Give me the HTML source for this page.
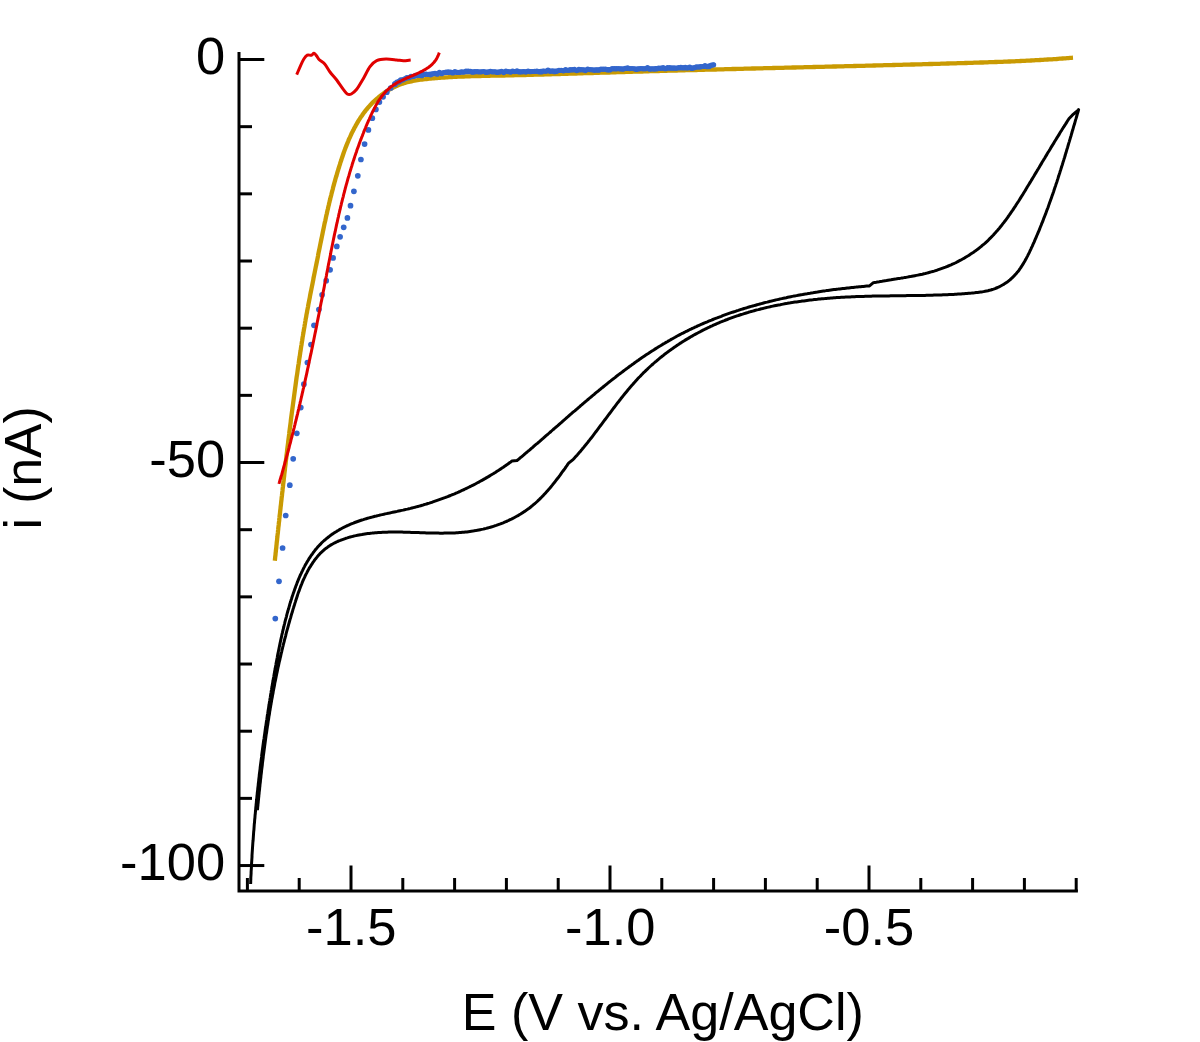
<!DOCTYPE html><html><head><meta charset="utf-8"><style>html,body{margin:0;padding:0;background:#fff;}svg{display:block;}text{font-family:"Liberation Sans",sans-serif;fill:#000;}</style></head><body>
<svg width="1200" height="1042" viewBox="0 0 1200 1042">
<g stroke="#000" stroke-width="3.0" fill="none" stroke-linecap="butt">
<path d="M239.0 52 L239.0 891.0 L1077.9 891.0"/>
<path d="M239.0 59.50 h25.3"/>
<path d="M239.0 126.67 h13.0"/>
<path d="M239.0 193.84 h13.0"/>
<path d="M239.0 261.01 h13.0"/>
<path d="M239.0 328.18 h13.0"/>
<path d="M239.0 395.35 h13.0"/>
<path d="M239.0 462.52 h25.3"/>
<path d="M239.0 529.69 h13.0"/>
<path d="M239.0 596.86 h13.0"/>
<path d="M239.0 664.03 h13.0"/>
<path d="M239.0 731.20 h13.0"/>
<path d="M239.0 798.37 h13.0"/>
<path d="M239.0 865.54 h25.3"/>
<path d="M247.40 891.0 v-13.0"/>
<path d="M299.20 891.0 v-13.0"/>
<path d="M351.00 891.0 v-25.5"/>
<path d="M402.80 891.0 v-13.0"/>
<path d="M454.60 891.0 v-13.0"/>
<path d="M506.40 891.0 v-13.0"/>
<path d="M558.20 891.0 v-13.0"/>
<path d="M610.00 891.0 v-25.5"/>
<path d="M661.80 891.0 v-13.0"/>
<path d="M713.60 891.0 v-13.0"/>
<path d="M765.40 891.0 v-13.0"/>
<path d="M817.20 891.0 v-13.0"/>
<path d="M869.00 891.0 v-25.5"/>
<path d="M920.80 891.0 v-13.0"/>
<path d="M972.60 891.0 v-13.0"/>
<path d="M1024.40 891.0 v-13.0"/>
<path d="M1076.20 891.0 v-13.0"/>
</g>
<text x="225.2" y="55.2" font-size="52.5" text-anchor="end" dominant-baseline="central">0</text>
<text x="225.2" y="458.2" font-size="52.5" text-anchor="end" dominant-baseline="central">-50</text>
<text x="225.2" y="861.2" font-size="52.5" text-anchor="end" dominant-baseline="central">-100</text>
<text x="351.2" y="945.2" font-size="52.5" text-anchor="middle">-1.5</text>
<text x="610.2" y="945.2" font-size="52.5" text-anchor="middle">-1.0</text>
<text x="869.0" y="945.2" font-size="52.5" text-anchor="middle">-0.5</text>
<text transform="translate(662.8 1030) scale(0.9915 1)" x="0" y="0" font-size="52.5" text-anchor="middle">E (V vs. Ag/AgCl)</text>
<text transform="translate(40.5 467.9) rotate(-90) scale(0.981 1)" x="0" y="0" font-size="52.5" text-anchor="middle">i (nA)</text>
<path d="M257.4 810.1 L257.6 808.6 L257.7 807.1 L257.9 805.6 L258.0 804.1 L258.2 802.6 L258.3 801.1 L258.5 799.6 L258.6 798.1 L258.8 796.6 L258.9 795.0 L259.1 793.5 L259.2 792.0 L259.4 790.5 L259.6 789.0 L259.7 787.5 L259.9 786.0 L260.0 784.5 L260.2 783.0 L260.4 781.5 L260.5 780.0 L260.7 778.5 L260.9 777.0 L261.0 775.5 L261.2 774.0 L261.4 772.6 L261.5 771.1 L261.7 769.6 L261.9 768.1 L262.1 766.6 L262.3 765.1 L262.4 763.6 L262.6 762.1 L262.8 760.6 L263.0 759.1 L263.2 757.6 L263.3 756.1 L263.5 754.7 L263.7 753.2 L263.9 751.7 L264.1 750.2 L264.3 748.7 L264.5 747.2 L264.7 745.7 L264.9 744.3 L265.1 742.8 L265.3 741.3 L265.5 739.8 L265.7 738.3 L265.9 736.8 L266.1 735.4 L266.3 733.9 L266.6 732.4 L266.8 730.9 L267.0 729.4 L267.2 728.0 L267.4 726.5 L267.7 725.0 L267.9 723.5 L268.1 722.1 L268.3 720.6 L268.6 719.1 L268.8 717.6 L269.0 716.1 L269.3 714.7 L269.5 713.2 L269.7 711.7 L270.0 710.3 L270.2 708.8 L270.5 707.3 L270.7 705.8 L271.0 704.4 L271.2 702.9 L271.5 701.4 L271.7 699.9 L272.0 698.5 L272.3 697.0 L272.5 695.5 L272.8 694.1 L273.1 692.6 L273.3 691.1 L273.6 689.7 L273.9 688.2 L274.2 686.7 L274.5 685.3 L274.7 683.8 L275.0 682.3 L275.3 680.9 L275.6 679.4 L275.9 677.9 L276.2 676.5 L276.5 675.0 L276.8 673.5 L277.1 672.1 L277.4 670.6 L277.7 669.1 L278.0 667.7 L278.4 666.2 L278.7 664.8 L279.0 663.3 L279.3 661.8 L279.7 660.4 L280.0 658.9 L280.3 657.5 L280.7 656.0 L281.0 654.5 L281.3 653.1 L281.7 651.6 L282.0 650.2 L282.4 648.7 L282.7 647.2 L283.1 645.8 L283.4 644.3 L283.8 642.9 L284.2 641.4 L284.5 639.9 L284.9 638.5 L285.3 637.0 L285.7 635.6 L286.0 634.1 L286.4 632.7 L286.8 631.2 L287.2 629.7 L287.6 628.3 L288.0 626.8 L288.4 625.4 L288.8 623.9 L289.2 622.5 L289.6 621.0 L290.0 619.6 L290.5 618.1 L290.9 616.6 L291.3 615.2 L291.7 613.7 L292.2 612.3 L292.6 610.8 L293.0 609.4 L293.5 607.9 L293.9 606.5 L294.4 605.0 L294.8 603.6 L295.3 602.1 L295.7 600.7 L296.2 599.2 L296.7 597.8 L297.2 596.3 L297.6 594.9 L298.1 593.4 L298.6 592.0 L299.2 590.6 L299.7 589.1 L300.2 587.7 L300.7 586.3 L301.3 584.9 L301.9 583.5 L302.4 582.1 L303.0 580.7 L303.6 579.3 L304.3 577.9 L304.9 576.6 L305.5 575.2 L306.2 573.9 L306.9 572.6 L307.6 571.2 L308.3 569.9 L309.0 568.6 L309.8 567.3 L310.6 566.1 L311.4 564.8 L312.2 563.6 L313.0 562.3 L313.9 561.1 L314.7 559.9 L315.7 558.7 L316.6 557.6 L317.5 556.4 L318.5 555.3 L319.5 554.2 L320.5 553.1 L321.6 552.1 L322.7 551.1 L323.8 550.1 L324.9 549.1 L326.1 548.2 L327.3 547.4 L328.5 546.5 L329.7 545.7 L331.0 544.9 L332.2 544.2 L333.5 543.5 L334.8 542.8 L336.2 542.1 L337.5 541.5 L338.9 540.9 L340.3 540.4 L341.7 539.8 L343.1 539.3 L344.5 538.8 L345.9 538.3 L347.3 537.9 L348.8 537.4 L350.2 537.0 L351.7 536.6 L353.1 536.3 L354.6 535.9 L356.0 535.6 L357.5 535.3 L359.0 535.0 L360.4 534.7 L361.9 534.5 L363.4 534.2 L364.8 534.0 L366.3 533.8 L367.8 533.6 L369.3 533.4 L370.7 533.2 L372.2 533.1 L373.7 532.9 L375.2 532.8 L376.7 532.7 L378.2 532.6 L379.7 532.5 L381.1 532.4 L382.6 532.3 L384.1 532.3 L385.6 532.2 L387.1 532.2 L388.6 532.1 L390.1 532.1 L391.6 532.1 L393.1 532.1 L394.6 532.1 L396.1 532.1 L397.6 532.1 L399.1 532.1 L400.6 532.1 L402.1 532.1 L403.6 532.2 L405.1 532.2 L406.7 532.2 L408.2 532.3 L409.7 532.3 L411.2 532.4 L412.7 532.4 L414.2 532.5 L415.7 532.5 L417.2 532.6 L418.7 532.6 L420.2 532.7 L421.8 532.7 L423.3 532.8 L424.8 532.8 L426.3 532.9 L427.8 532.9 L429.3 533.0 L430.8 533.0 L432.3 533.0 L433.8 533.1 L435.3 533.1 L436.9 533.1 L438.4 533.1 L439.9 533.2 L441.4 533.2 L442.9 533.2 L444.4 533.1 L445.9 533.1 L447.4 533.1 L448.9 533.1 L450.4 533.0 L451.9 533.0 L453.4 532.9 L454.9 532.9 L456.4 532.8 L457.9 532.7 L459.4 532.6 L460.9 532.5 L462.4 532.3 L463.9 532.2 L465.4 532.0 L466.9 531.9 L468.4 531.7 L469.9 531.5 L471.4 531.3 L472.8 531.1 L474.3 530.8 L475.8 530.6 L477.3 530.3 L478.8 530.0 L480.2 529.7 L481.7 529.4 L483.2 529.1 L484.6 528.7 L486.1 528.4 L487.6 528.0 L489.0 527.6 L490.5 527.2 L491.9 526.8 L493.3 526.3 L494.8 525.8 L496.2 525.4 L497.6 524.9 L499.0 524.4 L500.4 523.9 L501.8 523.3 L503.2 522.8 L504.6 522.2 L506.0 521.6 L507.4 521.0 L508.7 520.4 L510.1 519.7 L511.4 519.1 L512.8 518.4 L514.1 517.7 L515.4 517.0 L516.7 516.3 L518.0 515.6 L519.3 514.8 L520.6 514.0 L521.8 513.2 L523.1 512.4 L524.3 511.6 L525.6 510.8 L526.8 509.9 L528.0 509.0 L529.2 508.2 L530.4 507.3 L531.5 506.3 L532.7 505.4 L533.8 504.4 L535.0 503.5 L536.1 502.5 L537.2 501.5 L538.3 500.4 L539.4 499.4 L540.4 498.4 L541.5 497.3 L542.5 496.2 L543.6 495.1 L544.6 494.0 L545.6 492.9 L546.6 491.8 L547.6 490.7 L548.6 489.6 L549.6 488.4 L550.6 487.3 L551.5 486.1 L552.5 484.9 L553.4 483.7 L554.4 482.6 L555.3 481.4 L556.2 480.2 L557.1 479.0 L558.1 477.8 L559.0 476.6 L559.9 475.4 L560.8 474.1 L561.6 472.9 L562.5 471.7 L563.4 470.5 L564.3 469.3 L565.2 468.1 L566.0 466.8 L566.9 465.6 L567.7 464.4 L568.6 463.2 L573.3 459.3 L574.3 458.2 L575.3 457.1 L576.3 456.0 L577.3 454.9 L578.3 453.7 L579.3 452.6 L580.3 451.5 L581.2 450.3 L582.2 449.2 L583.1 448.0 L584.1 446.9 L585.0 445.7 L586.0 444.6 L586.9 443.4 L587.9 442.2 L588.8 441.0 L589.7 439.9 L590.6 438.7 L591.6 437.5 L592.5 436.3 L593.4 435.1 L594.3 433.9 L595.2 432.7 L596.1 431.5 L597.0 430.3 L597.9 429.1 L598.8 427.9 L599.7 426.7 L600.6 425.5 L601.5 424.3 L602.4 423.1 L603.3 421.9 L604.2 420.7 L605.1 419.5 L606.0 418.3 L606.9 417.1 L607.8 415.9 L608.7 414.7 L609.6 413.5 L610.5 412.3 L611.4 411.1 L612.3 409.9 L613.2 408.7 L614.1 407.5 L615.0 406.3 L615.9 405.1 L616.8 403.9 L617.7 402.7 L618.7 401.5 L619.6 400.3 L620.5 399.2 L621.4 398.0 L622.4 396.8 L623.3 395.6 L624.2 394.5 L625.2 393.3 L626.1 392.2 L627.1 391.0 L628.0 389.8 L629.0 388.7 L630.0 387.6 L630.9 386.4 L631.9 385.3 L632.9 384.2 L633.9 383.0 L634.9 381.9 L635.9 380.8 L636.9 379.7 L637.9 378.6 L638.9 377.5 L640.0 376.5 L641.0 375.4 L642.1 374.3 L643.1 373.2 L644.2 372.2 L645.3 371.1 L646.3 370.1 L647.4 369.1 L648.5 368.0 L649.6 367.0 L650.7 366.0 L651.8 365.0 L653.0 364.0 L654.1 363.0 L655.2 362.0 L656.4 361.1 L657.5 360.1 L658.7 359.1 L659.8 358.2 L661.0 357.2 L662.2 356.3 L663.4 355.4 L664.5 354.4 L665.7 353.5 L666.9 352.6 L668.1 351.7 L669.4 350.8 L670.6 349.9 L671.8 349.1 L673.0 348.2 L674.3 347.3 L675.5 346.5 L676.7 345.6 L678.0 344.8 L679.2 344.0 L680.5 343.1 L681.8 342.3 L683.0 341.5 L684.3 340.7 L685.6 339.9 L686.9 339.1 L688.2 338.4 L689.5 337.6 L690.8 336.8 L692.1 336.1 L693.4 335.3 L694.7 334.6 L696.0 333.9 L697.3 333.2 L698.6 332.5 L700.0 331.8 L701.3 331.1 L702.6 330.4 L704.0 329.7 L705.3 329.0 L706.7 328.4 L708.0 327.7 L709.4 327.1 L710.7 326.4 L712.1 325.8 L713.4 325.2 L714.8 324.6 L716.2 324.0 L717.5 323.4 L718.9 322.8 L720.3 322.2 L721.7 321.7 L723.0 321.1 L724.4 320.6 L725.8 320.0 L727.2 319.5 L728.6 318.9 L730.0 318.4 L731.4 317.9 L732.8 317.4 L734.2 316.9 L735.6 316.4 L737.0 315.9 L738.4 315.5 L739.8 315.0 L741.2 314.5 L742.7 314.1 L744.1 313.6 L745.5 313.2 L746.9 312.8 L748.4 312.3 L749.8 311.9 L751.2 311.5 L752.7 311.1 L754.1 310.7 L755.5 310.3 L757.0 309.9 L758.4 309.6 L759.9 309.2 L761.3 308.8 L762.7 308.5 L764.2 308.1 L765.6 307.8 L767.1 307.4 L768.6 307.1 L770.0 306.8 L771.5 306.4 L772.9 306.1 L774.4 305.8 L775.9 305.5 L777.3 305.2 L778.8 304.9 L780.3 304.7 L781.7 304.4 L783.2 304.1 L784.7 303.8 L786.1 303.6 L787.6 303.3 L789.1 303.1 L790.6 302.8 L792.0 302.6 L793.5 302.3 L795.0 302.1 L796.5 301.9 L798.0 301.7 L799.4 301.5 L800.9 301.3 L802.4 301.0 L803.9 300.9 L805.4 300.7 L806.9 300.5 L808.4 300.3 L809.9 300.1 L811.3 299.9 L812.8 299.8 L814.3 299.6 L815.8 299.4 L817.3 299.3 L818.8 299.1 L820.3 299.0 L821.8 298.8 L823.3 298.7 L824.8 298.6 L826.3 298.4 L827.8 298.3 L829.3 298.2 L830.8 298.1 L832.3 298.0 L833.8 297.8 L835.3 297.7 L836.7 297.6 L838.2 297.5 L839.7 297.4 L841.2 297.3 L842.7 297.3 L844.2 297.2 L845.7 297.1 L847.2 297.0 L848.7 296.9 L850.2 296.9 L851.7 296.8 L853.2 296.7 L854.7 296.7 L856.2 296.6 L857.7 296.6 L859.2 296.5 L860.7 296.5 L862.2 296.4 L863.7 296.4 L865.2 296.3 L866.7 296.3 L868.2 296.2 L869.7 296.2 L871.2 296.2 L872.6 296.1 L874.1 296.1 L875.6 296.1 L877.1 296.0 L878.6 296.0 L880.1 296.0 L881.6 296.0 L883.1 295.9 L884.6 295.9 L886.1 295.9 L887.6 295.9 L889.1 295.9 L890.6 295.8 L892.1 295.8 L893.6 295.8 L895.1 295.8 L896.6 295.8 L898.0 295.8 L899.5 295.7 L901.0 295.7 L902.5 295.7 L904.0 295.7 L905.5 295.7 L907.0 295.6 L908.5 295.6 L910.0 295.6 L911.5 295.6 L913.0 295.6 L914.5 295.6 L916.0 295.5 L917.5 295.5 L919.0 295.5 L920.5 295.5 L922.0 295.4 L923.5 295.4 L925.0 295.4 L926.5 295.3 L928.0 295.3 L929.5 295.3 L931.0 295.2 L932.5 295.2 L934.0 295.1 L935.5 295.1 L937.0 295.1 L938.5 295.0 L940.0 295.0 L941.5 294.9 L943.0 294.8 L944.5 294.8 L946.0 294.7 L947.5 294.7 L949.0 294.6 L950.5 294.5 L952.0 294.4 L953.5 294.4 L955.0 294.3 L956.5 294.2 L958.0 294.1 L959.5 294.0 L961.0 293.9 L962.5 293.8 L964.0 293.7 L965.6 293.6 L967.1 293.5 L968.6 293.3 L970.1 293.2 L971.6 293.1 L973.1 292.9 L974.6 292.8 L976.1 292.6 L977.6 292.5 L979.1 292.3 L980.6 292.1 L982.1 291.9 L983.6 291.6 L985.1 291.3 L986.5 291.0 L988.0 290.7 L989.4 290.3 L990.8 290.0 L992.2 289.5 L993.6 289.1 L995.0 288.6 L996.4 288.0 L997.7 287.5 L999.0 286.9 L1000.3 286.2 L1001.6 285.5 L1002.9 284.8 L1004.1 284.1 L1005.3 283.3 L1006.5 282.5 L1007.7 281.7 L1008.8 280.8 L1010.0 279.9 L1011.0 278.9 L1012.1 277.9 L1013.1 276.9 L1014.2 275.9 L1015.1 274.8 L1016.1 273.7 L1017.0 272.6 L1018.0 271.5 L1018.9 270.3 L1019.7 269.1 L1020.6 267.9 L1021.4 266.6 L1022.2 265.4 L1023.0 264.1 L1023.8 262.8 L1024.6 261.5 L1025.3 260.1 L1026.1 258.8 L1026.8 257.4 L1027.5 256.1 L1028.2 254.7 L1028.9 253.3 L1029.6 251.9 L1030.2 250.5 L1030.9 249.1 L1031.5 247.7 L1032.2 246.3 L1032.8 244.9 L1033.4 243.5 L1034.1 242.1 L1034.7 240.6 L1035.3 239.2 L1035.9 237.8 L1036.5 236.4 L1037.1 235.0 L1037.7 233.6 L1038.3 232.2 L1038.9 230.8 L1039.5 229.4 L1040.0 228.0 L1040.6 226.5 L1041.2 225.1 L1041.7 223.7 L1042.3 222.3 L1042.9 220.9 L1043.4 219.5 L1043.9 218.1 L1044.5 216.7 L1045.0 215.3 L1045.6 213.9 L1046.1 212.5 L1046.6 211.1 L1047.1 209.7 L1047.7 208.3 L1048.2 206.9 L1048.7 205.4 L1049.2 204.0 L1049.7 202.6 L1050.2 201.2 L1050.7 199.8 L1051.2 198.4 L1051.7 197.0 L1052.2 195.6 L1052.7 194.2 L1053.2 192.8 L1053.7 191.4 L1054.1 190.0 L1054.6 188.5 L1055.1 187.1 L1055.6 185.7 L1056.0 184.3 L1056.5 182.9 L1057.0 181.5 L1057.4 180.1 L1057.9 178.7 L1058.3 177.3 L1058.8 175.8 L1059.2 174.4 L1059.7 173.0 L1060.1 171.6 L1060.6 170.2 L1061.0 168.8 L1061.5 167.3 L1061.9 165.9 L1062.4 164.5 L1062.8 163.1 L1063.2 161.7 L1063.7 160.2 L1064.1 158.8 L1064.6 157.4 L1065.0 156.0 L1065.4 154.5 L1065.9 153.1 L1066.3 151.7 L1066.7 150.2 L1067.1 148.8 L1067.6 147.4 L1068.0 145.9 L1068.4 144.5 L1068.8 143.1 L1069.3 141.6 L1069.7 140.2 L1070.1 138.8 L1070.5 137.3 L1071.0 135.9 L1071.4 134.4 L1071.8 133.0 L1072.2 131.5 L1072.7 130.1 L1073.1 128.6 L1073.5 127.2 L1073.9 125.7 L1074.4 124.3 L1074.8 122.8 L1075.2 121.4 L1075.6 119.9 L1076.1 118.4 L1076.5 117.0 L1076.9 115.5 L1077.3 114.0 L1077.8 112.6 L1078.2 111.1 L1078.6 109.6 L1078.6 109.8 L1075.5 112.4 L1072.3 115.2 L1068.9 118.8 L1068.1 120.0 L1067.3 121.3 L1066.5 122.6 L1065.7 123.9 L1064.9 125.1 L1064.1 126.4 L1063.2 127.7 L1062.4 129.0 L1061.6 130.3 L1060.8 131.5 L1060.0 132.8 L1059.3 134.1 L1058.5 135.4 L1057.7 136.7 L1056.9 137.9 L1056.1 139.2 L1055.3 140.5 L1054.5 141.8 L1053.8 143.1 L1053.0 144.3 L1052.2 145.6 L1051.4 146.9 L1050.6 148.2 L1049.9 149.5 L1049.1 150.8 L1048.3 152.0 L1047.5 153.3 L1046.8 154.6 L1046.0 155.9 L1045.2 157.2 L1044.5 158.5 L1043.7 159.7 L1042.9 161.0 L1042.1 162.3 L1041.4 163.6 L1040.6 164.9 L1039.8 166.2 L1039.1 167.5 L1038.3 168.8 L1037.5 170.0 L1036.8 171.3 L1036.0 172.6 L1035.2 173.9 L1034.4 175.2 L1033.7 176.5 L1032.9 177.8 L1032.1 179.1 L1031.3 180.4 L1030.6 181.6 L1029.8 182.9 L1029.0 184.2 L1028.2 185.5 L1027.4 186.8 L1026.6 188.1 L1025.9 189.4 L1025.1 190.7 L1024.3 192.0 L1023.5 193.3 L1022.7 194.6 L1021.9 195.8 L1021.1 197.1 L1020.3 198.4 L1019.5 199.7 L1018.7 201.0 L1017.8 202.3 L1017.0 203.5 L1016.2 204.8 L1015.4 206.1 L1014.5 207.4 L1013.7 208.6 L1012.9 209.9 L1012.0 211.1 L1011.1 212.4 L1010.3 213.6 L1009.4 214.9 L1008.5 216.1 L1007.7 217.4 L1006.8 218.6 L1005.9 219.8 L1005.0 221.0 L1004.1 222.2 L1003.1 223.4 L1002.2 224.6 L1001.3 225.8 L1000.3 227.0 L999.4 228.2 L998.4 229.3 L997.4 230.5 L996.4 231.6 L995.4 232.7 L994.4 233.8 L993.4 235.0 L992.4 236.0 L991.3 237.1 L990.3 238.2 L989.2 239.2 L988.2 240.3 L987.1 241.3 L986.0 242.3 L984.9 243.3 L983.7 244.3 L982.6 245.2 L981.5 246.2 L980.3 247.1 L979.1 248.1 L978.0 249.0 L976.8 249.9 L975.6 250.8 L974.4 251.6 L973.2 252.5 L971.9 253.3 L970.7 254.1 L969.4 255.0 L968.2 255.8 L966.9 256.5 L965.6 257.3 L964.4 258.1 L963.1 258.8 L961.8 259.5 L960.5 260.2 L959.1 260.9 L957.8 261.6 L956.5 262.3 L955.1 263.0 L953.8 263.6 L952.4 264.2 L951.1 264.8 L949.7 265.4 L948.3 266.0 L946.9 266.6 L945.5 267.2 L944.1 267.7 L942.7 268.2 L941.3 268.7 L939.9 269.2 L938.4 269.7 L937.0 270.2 L935.6 270.6 L934.1 271.1 L932.7 271.5 L931.2 271.9 L929.8 272.3 L928.3 272.7 L926.8 273.1 L925.3 273.5 L923.9 273.8 L922.4 274.2 L920.9 274.5 L919.4 274.8 L917.9 275.1 L916.4 275.4 L914.9 275.7 L913.4 276.0 L911.9 276.3 L910.4 276.6 L908.9 276.8 L907.4 277.1 L905.9 277.4 L904.4 277.6 L902.9 277.9 L901.4 278.1 L899.9 278.4 L898.4 278.6 L896.9 278.8 L895.4 279.1 L893.9 279.3 L892.4 279.5 L891.0 279.8 L889.5 280.0 L888.0 280.2 L886.5 280.5 L885.0 280.7 L883.5 280.9 L882.1 281.2 L880.6 281.4 L879.2 281.7 L877.7 281.9 L876.3 282.2 L874.8 282.4 L873.4 282.7 L869.5 285.9 L868.0 286.0 L866.5 286.1 L865.0 286.2 L863.5 286.4 L862.1 286.5 L860.6 286.7 L859.1 286.8 L857.6 286.9 L856.1 287.1 L854.7 287.2 L853.2 287.4 L851.7 287.5 L850.2 287.7 L848.7 287.9 L847.2 288.0 L845.8 288.2 L844.3 288.4 L842.8 288.5 L841.3 288.7 L839.8 288.9 L838.3 289.1 L836.8 289.2 L835.4 289.4 L833.9 289.6 L832.4 289.8 L830.9 290.0 L829.4 290.2 L827.9 290.4 L826.4 290.6 L824.9 290.9 L823.4 291.1 L822.0 291.3 L820.5 291.5 L819.0 291.7 L817.5 292.0 L816.0 292.2 L814.5 292.4 L813.0 292.7 L811.5 292.9 L810.1 293.2 L808.6 293.4 L807.1 293.7 L805.6 293.9 L804.1 294.2 L802.6 294.5 L801.1 294.7 L799.7 295.0 L798.2 295.3 L796.7 295.6 L795.2 295.9 L793.7 296.1 L792.3 296.4 L790.8 296.7 L789.3 297.0 L787.8 297.3 L786.3 297.7 L784.9 298.0 L783.4 298.3 L781.9 298.6 L780.4 298.9 L779.0 299.3 L777.5 299.6 L776.0 299.9 L774.6 300.3 L773.1 300.6 L771.6 301.0 L770.2 301.3 L768.7 301.7 L767.2 302.1 L765.8 302.4 L764.3 302.8 L762.8 303.2 L761.4 303.6 L759.9 304.0 L758.5 304.4 L757.0 304.8 L755.6 305.2 L754.1 305.6 L752.7 306.0 L751.2 306.4 L749.8 306.8 L748.3 307.2 L746.9 307.7 L745.5 308.1 L744.0 308.5 L742.6 309.0 L741.1 309.4 L739.7 309.9 L738.3 310.4 L736.8 310.8 L735.4 311.3 L734.0 311.8 L732.6 312.2 L731.1 312.7 L729.7 313.2 L728.3 313.7 L726.9 314.2 L725.5 314.7 L724.1 315.2 L722.7 315.7 L721.3 316.3 L719.9 316.8 L718.5 317.3 L717.1 317.9 L715.7 318.4 L714.3 318.9 L712.9 319.5 L711.5 320.1 L710.1 320.6 L708.7 321.2 L707.3 321.8 L706.0 322.3 L704.6 322.9 L703.2 323.5 L701.8 324.1 L700.5 324.7 L699.1 325.3 L697.7 325.9 L696.4 326.6 L695.0 327.2 L693.7 327.8 L692.3 328.4 L691.0 329.1 L689.6 329.7 L688.3 330.4 L687.0 331.1 L685.6 331.7 L684.3 332.4 L683.0 333.1 L681.6 333.7 L680.3 334.4 L679.0 335.1 L677.7 335.8 L676.4 336.5 L675.1 337.3 L673.8 338.0 L672.5 338.7 L671.2 339.4 L669.9 340.2 L668.6 340.9 L667.3 341.7 L666.0 342.4 L664.7 343.2 L663.4 343.9 L662.1 344.7 L660.9 345.5 L659.6 346.2 L658.3 347.0 L657.1 347.8 L655.8 348.6 L654.5 349.4 L653.3 350.2 L652.0 351.0 L650.8 351.8 L649.5 352.6 L648.3 353.5 L647.0 354.3 L645.8 355.1 L644.5 356.0 L643.3 356.8 L642.1 357.6 L640.8 358.5 L639.6 359.3 L638.4 360.2 L637.1 361.1 L635.9 361.9 L634.7 362.8 L633.5 363.7 L632.3 364.5 L631.1 365.4 L629.8 366.3 L628.6 367.2 L627.4 368.1 L626.2 369.0 L625.0 369.9 L623.8 370.8 L622.6 371.7 L621.4 372.6 L620.2 373.5 L619.0 374.4 L617.8 375.3 L616.6 376.2 L615.5 377.2 L614.3 378.1 L613.1 379.0 L611.9 379.9 L610.7 380.9 L609.5 381.8 L608.4 382.7 L607.2 383.7 L606.0 384.6 L604.8 385.6 L603.7 386.5 L602.5 387.5 L601.3 388.4 L600.2 389.4 L599.0 390.3 L597.8 391.3 L596.7 392.2 L595.5 393.2 L594.4 394.2 L593.2 395.1 L592.0 396.1 L590.9 397.1 L589.7 398.0 L588.6 399.0 L587.4 400.0 L586.3 401.0 L585.1 401.9 L584.0 402.9 L582.8 403.9 L581.7 404.9 L580.5 405.8 L579.4 406.8 L578.2 407.8 L577.1 408.8 L575.9 409.8 L574.8 410.8 L573.7 411.7 L572.5 412.7 L571.4 413.7 L570.2 414.7 L569.1 415.7 L568.0 416.7 L566.8 417.7 L565.7 418.7 L564.6 419.6 L563.4 420.6 L562.3 421.6 L561.2 422.6 L560.0 423.6 L558.9 424.6 L557.8 425.6 L556.6 426.6 L555.5 427.5 L554.4 428.5 L553.2 429.5 L552.1 430.5 L551.0 431.5 L549.8 432.5 L548.7 433.5 L547.6 434.5 L546.4 435.4 L545.3 436.4 L544.2 437.4 L543.1 438.4 L541.9 439.4 L540.8 440.3 L539.7 441.3 L538.5 442.3 L537.4 443.3 L536.3 444.2 L535.1 445.2 L534.0 446.2 L532.9 447.2 L531.7 448.1 L530.6 449.1 L529.5 450.1 L528.3 451.0 L527.2 452.0 L526.1 452.9 L524.9 453.9 L523.8 454.9 L522.7 455.8 L521.5 456.8 L520.4 457.7 L519.3 458.7 L518.1 459.6 L517.0 460.5 L512.0 461.0 L510.8 461.9 L509.5 462.8 L508.3 463.7 L507.1 464.6 L505.8 465.5 L504.6 466.3 L503.3 467.2 L502.0 468.0 L500.8 468.9 L499.5 469.7 L498.3 470.5 L497.0 471.3 L495.7 472.2 L494.4 473.0 L493.2 473.8 L491.9 474.5 L490.6 475.3 L489.3 476.1 L488.0 476.9 L486.7 477.6 L485.4 478.4 L484.1 479.1 L482.8 479.9 L481.5 480.6 L480.2 481.3 L478.8 482.1 L477.5 482.8 L476.2 483.5 L474.9 484.2 L473.6 484.9 L472.2 485.5 L470.9 486.2 L469.5 486.9 L468.2 487.5 L466.9 488.2 L465.5 488.8 L464.2 489.5 L462.8 490.1 L461.4 490.7 L460.1 491.4 L458.7 492.0 L457.4 492.6 L456.0 493.2 L454.6 493.8 L453.2 494.3 L451.8 494.9 L450.5 495.5 L449.1 496.0 L447.7 496.6 L446.3 497.1 L444.9 497.7 L443.5 498.2 L442.1 498.7 L440.7 499.2 L439.3 499.7 L437.9 500.2 L436.5 500.7 L435.0 501.2 L433.6 501.7 L432.2 502.2 L430.8 502.6 L429.3 503.1 L427.9 503.5 L426.5 504.0 L425.0 504.4 L423.6 504.8 L422.1 505.3 L420.7 505.7 L419.2 506.1 L417.8 506.5 L416.3 506.9 L414.9 507.3 L413.4 507.6 L411.9 508.0 L410.5 508.4 L409.0 508.7 L407.5 509.1 L406.0 509.4 L404.6 509.7 L403.1 510.1 L401.6 510.4 L400.1 510.7 L398.6 511.0 L397.1 511.4 L395.6 511.7 L394.2 512.0 L392.7 512.3 L391.2 512.6 L389.7 513.0 L388.2 513.3 L386.7 513.6 L385.2 513.9 L383.8 514.3 L382.3 514.6 L380.8 514.9 L379.3 515.3 L377.8 515.6 L376.4 516.0 L374.9 516.3 L373.4 516.7 L372.0 517.1 L370.5 517.5 L369.1 517.9 L367.6 518.3 L366.2 518.7 L364.7 519.1 L363.3 519.6 L361.9 520.0 L360.4 520.5 L359.0 521.0 L357.6 521.5 L356.2 522.0 L354.8 522.5 L353.4 523.1 L352.0 523.6 L350.6 524.2 L349.2 524.8 L347.9 525.4 L346.5 526.0 L345.2 526.7 L343.8 527.3 L342.5 528.0 L341.2 528.7 L339.9 529.4 L338.6 530.2 L337.3 530.9 L336.1 531.7 L334.8 532.5 L333.6 533.3 L332.3 534.1 L331.1 535.0 L329.9 535.9 L328.8 536.8 L327.6 537.7 L326.4 538.6 L325.3 539.6 L324.2 540.5 L323.1 541.5 L322.0 542.5 L321.0 543.6 L320.0 544.6 L318.9 545.7 L317.9 546.8 L317.0 547.9 L316.0 549.0 L315.1 550.2 L314.2 551.4 L313.3 552.5 L312.4 553.8 L311.5 555.0 L310.7 556.2 L309.9 557.5 L309.0 558.7 L308.3 560.0 L307.5 561.3 L306.7 562.6 L306.0 563.9 L305.2 565.2 L304.5 566.6 L303.8 567.9 L303.1 569.3 L302.5 570.6 L301.8 572.0 L301.2 573.4 L300.5 574.7 L299.9 576.1 L299.3 577.5 L298.7 578.9 L298.1 580.3 L297.6 581.7 L297.0 583.1 L296.5 584.6 L295.9 586.0 L295.4 587.4 L294.9 588.8 L294.4 590.3 L293.9 591.7 L293.4 593.1 L292.9 594.6 L292.4 596.0 L291.9 597.5 L291.5 598.9 L291.0 600.3 L290.6 601.8 L290.1 603.2 L289.7 604.7 L289.3 606.1 L288.9 607.6 L288.5 609.1 L288.0 610.5 L287.6 612.0 L287.2 613.4 L286.8 614.9 L286.5 616.3 L286.1 617.8 L285.7 619.2 L285.3 620.7 L284.9 622.2 L284.6 623.6 L284.2 625.1 L283.9 626.5 L283.5 628.0 L283.2 629.5 L282.8 630.9 L282.5 632.4 L282.1 633.9 L281.8 635.3 L281.5 636.8 L281.2 638.2 L280.8 639.7 L280.5 641.2 L280.2 642.6 L279.9 644.1 L279.6 645.6 L279.3 647.0 L279.0 648.5 L278.7 650.0 L278.4 651.5 L278.1 652.9 L277.8 654.4 L277.5 655.9 L277.3 657.3 L277.0 658.8 L276.7 660.3 L276.4 661.8 L276.1 663.2 L275.9 664.7 L275.6 666.2 L275.3 667.7 L275.1 669.1 L274.8 670.6 L274.5 672.1 L274.3 673.6 L274.0 675.0 L273.8 676.5 L273.5 678.0 L273.2 679.5 L273.0 680.9 L272.7 682.4 L272.5 683.9 L272.2 685.4 L272.0 686.9 L271.7 688.3 L271.5 689.8 L271.2 691.3 L271.0 692.8 L270.7 694.3 L270.5 695.7 L270.3 697.2 L270.0 698.7 L269.8 700.2 L269.5 701.7 L269.3 703.1 L269.1 704.6 L268.8 706.1 L268.6 707.6 L268.4 709.1 L268.1 710.6 L267.9 712.1 L267.7 713.5 L267.4 715.0 L267.2 716.5 L267.0 718.0 L266.8 719.5 L266.5 721.0 L266.3 722.4 L266.1 723.9 L265.9 725.4 L265.7 726.9 L265.4 728.4 L265.2 729.9 L265.0 731.4 L264.8 732.9 L264.6 734.4 L264.4 735.8 L264.2 737.3 L264.0 738.8 L263.7 740.3 L263.5 741.8 L263.3 743.3 L263.1 744.8 L262.9 746.3 L262.7 747.8 L262.5 749.2 L262.3 750.7 L262.1 752.2 L261.9 753.7 L261.7 755.2 L261.6 756.7 L261.4 758.2 L261.2 759.7 L261.0 761.2 L260.8 762.7 L260.6 764.2 L260.4 765.7 L260.2 767.2 L260.1 768.6 L259.9 770.1 L259.7 771.6 L259.5 773.1 L259.3 774.6 L259.2 776.1 L259.0 777.6 L258.8 779.1 L258.7 780.6 L258.5 782.1 L258.3 783.6 L258.2 785.1 L258.0 786.6 L257.8 788.1 L257.7 789.6 L257.5 791.1 L257.3 792.6 L257.2 794.1 L257.0 795.6 L256.9 797.1 L256.7 798.6 L256.6 800.0 L256.4 801.5 L256.3 803.0 L256.1 804.5 L256.0 806.0 L255.8 807.5 L255.7 809.0 L255.6 810.5 L255.4 812.0 L255.3 813.5 L255.1 815.0 L255.0 816.5 L254.9 818.0 L254.7 819.5 L254.6 821.0 L254.5 822.5 L254.3 824.0 L254.2 825.5 L254.1 827.0 L254.0 828.5 L253.9 830.0 L253.7 831.5 L253.6 833.0 L253.5 834.5 L253.4 836.0 L253.3 837.5 L253.2 839.0 L253.1 840.5 L252.9 842.0 L252.8 843.5 L252.7 845.0 L252.6 846.5 L252.5 848.0 L252.4 849.5 L252.3 851.0 L252.2 852.5 L252.1 854.0 L252.0 855.5 L252.0 857.0 L251.9 858.5 L251.8 860.0 L251.7 861.5 L251.6 863.0 L251.5 864.5 L251.4 866.0 L251.4 867.5 L251.3 869.0 L251.2 870.5 L251.1 872.0 L251.1 873.5 L251.0 875.0 L250.9 876.5 L250.8 878.0 L250.8 879.5 L250.7 881.0 L250.7 882.5 L250.6 884.0" fill="none" stroke="#000" stroke-width="3.0" stroke-linejoin="round"/>
<path d="M274.8 560.8 L275.0 559.3 L275.1 557.8 L275.3 556.3 L275.5 554.8 L275.6 553.3 L275.8 551.8 L275.9 550.4 L276.1 548.9 L276.3 547.4 L276.4 545.9 L276.6 544.4 L276.7 542.9 L276.9 541.4 L277.1 539.9 L277.2 538.4 L277.4 536.9 L277.5 535.4 L277.7 534.0 L277.9 532.5 L278.0 531.0 L278.2 529.5 L278.3 528.0 L278.5 526.5 L278.7 525.0 L278.8 523.5 L279.0 522.0 L279.2 520.5 L279.3 519.0 L279.5 517.5 L279.6 516.0 L279.8 514.6 L280.0 513.1 L280.1 511.6 L280.3 510.1 L280.5 508.6 L280.6 507.1 L280.8 505.6 L281.0 504.1 L281.1 502.6 L281.3 501.1 L281.5 499.6 L281.6 498.1 L281.8 496.6 L282.0 495.2 L282.1 493.7 L282.3 492.2 L282.5 490.7 L282.6 489.2 L282.8 487.7 L283.0 486.2 L283.1 484.7 L283.3 483.2 L283.5 481.7 L283.7 480.2 L283.8 478.7 L284.0 477.2 L284.2 475.8 L284.3 474.3 L284.5 472.8 L284.7 471.3 L284.9 469.8 L285.0 468.3 L285.2 466.8 L285.4 465.3 L285.6 463.8 L285.7 462.3 L285.9 460.8 L286.1 459.3 L286.3 457.8 L286.4 456.4 L286.6 454.9 L286.8 453.4 L287.0 451.9 L287.1 450.4 L287.3 448.9 L287.5 447.4 L287.7 445.9 L287.9 444.4 L288.1 442.9 L288.2 441.4 L288.4 440.0 L288.6 438.5 L288.8 437.0 L289.0 435.5 L289.2 434.0 L289.3 432.5 L289.5 431.0 L289.7 429.5 L289.9 428.0 L290.1 426.5 L290.3 425.0 L290.5 423.6 L290.7 422.1 L290.8 420.6 L291.0 419.1 L291.2 417.6 L291.4 416.1 L291.6 414.6 L291.8 413.1 L292.0 411.6 L292.2 410.2 L292.4 408.7 L292.6 407.2 L292.8 405.7 L293.0 404.2 L293.2 402.7 L293.4 401.2 L293.6 399.7 L293.8 398.3 L294.0 396.8 L294.2 395.3 L294.4 393.8 L294.6 392.3 L294.8 390.8 L295.0 389.3 L295.2 387.8 L295.4 386.4 L295.6 384.9 L295.8 383.4 L296.0 381.9 L296.2 380.4 L296.4 378.9 L296.6 377.4 L296.8 376.0 L297.1 374.5 L297.3 373.0 L297.5 371.5 L297.7 370.0 L297.9 368.5 L298.1 367.1 L298.3 365.6 L298.6 364.1 L298.8 362.6 L299.0 361.1 L299.2 359.6 L299.4 358.2 L299.7 356.7 L299.9 355.2 L300.1 353.7 L300.3 352.2 L300.6 350.7 L300.8 349.3 L301.0 347.8 L301.2 346.3 L301.5 344.8 L301.7 343.3 L301.9 341.9 L302.2 340.4 L302.4 338.9 L302.6 337.4 L302.9 335.9 L303.1 334.5 L303.4 333.0 L303.6 331.5 L303.9 330.0 L304.1 328.5 L304.4 327.1 L304.6 325.6 L304.9 324.1 L305.1 322.6 L305.4 321.1 L305.6 319.7 L305.9 318.2 L306.2 316.7 L306.4 315.2 L306.7 313.7 L307.0 312.3 L307.2 310.8 L307.5 309.3 L307.8 307.8 L308.1 306.3 L308.3 304.9 L308.6 303.4 L308.9 301.9 L309.2 300.4 L309.5 298.9 L309.8 297.5 L310.0 296.0 L310.3 294.5 L310.6 293.0 L310.9 291.5 L311.2 290.1 L311.5 288.6 L311.8 287.1 L312.1 285.6 L312.4 284.2 L312.7 282.7 L313.0 281.2 L313.3 279.7 L313.5 278.2 L313.8 276.8 L314.1 275.3 L314.4 273.8 L314.7 272.3 L315.0 270.9 L315.3 269.4 L315.6 267.9 L315.9 266.4 L316.2 265.0 L316.5 263.5 L316.8 262.0 L317.1 260.6 L317.4 259.1 L317.7 257.6 L318.0 256.1 L318.2 254.7 L318.5 253.2 L318.8 251.7 L319.1 250.3 L319.4 248.8 L319.7 247.3 L320.0 245.9 L320.3 244.4 L320.6 242.9 L320.9 241.5 L321.2 240.0 L321.5 238.5 L321.8 237.1 L322.1 235.6 L322.4 234.2 L322.7 232.7 L323.0 231.2 L323.3 229.8 L323.6 228.3 L323.9 226.8 L324.2 225.4 L324.5 223.9 L324.8 222.5 L325.2 221.0 L325.5 219.6 L325.8 218.1 L326.1 216.6 L326.4 215.2 L326.8 213.7 L327.1 212.3 L327.4 210.8 L327.8 209.3 L328.1 207.9 L328.4 206.4 L328.8 205.0 L329.1 203.5 L329.5 202.1 L329.8 200.6 L330.2 199.2 L330.5 197.7 L330.9 196.3 L331.3 194.8 L331.6 193.4 L332.0 191.9 L332.4 190.5 L332.8 189.0 L333.1 187.5 L333.5 186.1 L333.9 184.6 L334.3 183.2 L334.7 181.7 L335.1 180.3 L335.5 178.8 L335.9 177.4 L336.4 176.0 L336.8 174.5 L337.2 173.1 L337.6 171.6 L338.1 170.2 L338.5 168.7 L339.0 167.3 L339.4 165.8 L339.9 164.4 L340.3 162.9 L340.8 161.5 L341.3 160.0 L341.7 158.6 L342.2 157.2 L342.7 155.7 L343.2 154.3 L343.7 152.8 L344.2 151.4 L344.7 150.0 L345.3 148.6 L345.8 147.1 L346.4 145.7 L346.9 144.3 L347.5 142.9 L348.1 141.5 L348.6 140.1 L349.2 138.7 L349.9 137.4 L350.5 136.0 L351.1 134.6 L351.7 133.3 L352.4 131.9 L353.1 130.6 L353.8 129.2 L354.4 127.9 L355.2 126.6 L355.9 125.3 L356.6 124.0 L357.4 122.7 L358.1 121.4 L358.9 120.1 L359.7 118.9 L360.5 117.6 L361.3 116.4 L362.2 115.2 L363.0 114.0 L363.9 112.8 L364.8 111.6 L365.7 110.4 L366.7 109.3 L367.6 108.1 L368.6 107.0 L369.6 105.9 L370.6 104.8 L371.6 103.7 L372.6 102.6 L373.7 101.6 L374.8 100.6 L375.9 99.6 L377.0 98.6 L378.2 97.6 L379.3 96.6 L380.5 95.7 L381.7 94.8 L382.9 93.9 L384.1 93.0 L385.4 92.1 L386.6 91.3 L387.9 90.5 L389.2 89.7 L390.5 89.0 L391.8 88.3 L393.2 87.6 L394.5 86.9 L395.9 86.3 L397.2 85.7 L398.6 85.1 L400.0 84.6 L401.4 84.0 L402.8 83.6 L404.2 83.1 L405.7 82.7 L407.1 82.3 L408.6 81.9 L410.0 81.6 L411.5 81.3 L412.9 80.9 L414.4 80.7 L415.9 80.4 L417.4 80.2 L418.9 79.9 L420.4 79.7 L421.9 79.5 L423.4 79.3 L424.9 79.2 L426.4 79.0 L427.9 78.8 L429.4 78.7 L430.9 78.5 L432.4 78.4 L433.9 78.3 L435.4 78.1 L436.9 78.0 L438.4 77.9 L439.9 77.8 L441.4 77.7 L442.9 77.6 L444.4 77.5 L445.9 77.4 L447.4 77.3 L448.9 77.2 L450.4 77.1 L451.9 77.0 L453.4 76.9 L454.9 76.9 L456.4 76.8 L457.9 76.7 L459.4 76.6 L460.9 76.6 L462.4 76.5 L463.9 76.5 L465.4 76.4 L466.9 76.4 L468.4 76.3 L469.9 76.3 L471.4 76.2 L472.9 76.2 L474.4 76.1 L475.9 76.1 L477.4 76.1 L478.9 76.0 L480.4 76.0 L481.9 75.9 L483.4 75.9 L484.9 75.9 L486.4 75.8 L487.9 75.8 L489.4 75.8 L490.9 75.7 L492.4 75.7 L493.9 75.7 L495.4 75.7 L496.9 75.6 L498.4 75.6 L499.9 75.6 L501.4 75.5 L502.9 75.5 L504.4 75.5 L505.9 75.4 L507.4 75.4 L508.9 75.4 L510.4 75.3 L511.9 75.3 L513.4 75.3 L514.9 75.2 L516.4 75.2 L517.9 75.2 L519.4 75.1 L520.9 75.1 L522.4 75.0 L523.9 75.0 L525.4 75.0 L526.9 74.9 L528.4 74.9 L529.9 74.8 L531.4 74.8 L532.9 74.8 L534.4 74.7 L535.9 74.7 L537.4 74.6 L538.9 74.6 L540.4 74.6 L541.9 74.5 L543.4 74.5 L544.9 74.4 L546.4 74.4 L547.9 74.3 L549.4 74.3 L550.9 74.3 L552.4 74.2 L553.9 74.2 L555.4 74.1 L556.9 74.1 L558.4 74.0 L559.9 74.0 L561.4 73.9 L562.9 73.9 L564.4 73.9 L565.9 73.8 L567.4 73.8 L568.9 73.7 L570.4 73.7 L571.9 73.6 L573.4 73.6 L574.9 73.5 L576.4 73.5 L577.9 73.4 L579.4 73.4 L580.9 73.3 L582.4 73.3 L583.9 73.2 L585.4 73.2 L586.9 73.2 L588.4 73.1 L589.9 73.1 L591.4 73.0 L592.9 73.0 L594.4 72.9 L595.9 72.9 L597.4 72.8 L598.9 72.8 L600.4 72.7 L601.9 72.7 L603.4 72.6 L604.9 72.6 L606.4 72.5 L607.9 72.5 L609.4 72.5 L610.9 72.4 L612.4 72.4 L613.9 72.3 L615.4 72.3 L616.9 72.2 L618.4 72.2 L619.9 72.1 L621.4 72.1 L622.9 72.0 L624.4 72.0 L625.9 71.9 L627.4 71.9 L628.9 71.9 L630.4 71.8 L631.9 71.8 L633.4 71.7 L634.9 71.7 L636.4 71.6 L637.9 71.6 L639.4 71.5 L640.9 71.5 L642.4 71.5 L643.9 71.4 L645.4 71.4 L646.9 71.3 L648.4 71.3 L649.9 71.2 L651.4 71.2 L652.9 71.2 L654.4 71.1 L655.9 71.1 L657.4 71.0 L658.9 71.0 L660.4 70.9 L661.9 70.9 L663.4 70.9 L664.9 70.8 L666.4 70.8 L667.9 70.7 L669.4 70.7 L670.9 70.7 L672.4 70.6 L673.9 70.6 L675.4 70.5 L676.9 70.5 L678.4 70.4 L680.0 70.4 L681.5 70.4 L683.0 70.3 L684.5 70.3 L686.0 70.2 L687.5 70.2 L689.0 70.2 L690.5 70.1 L692.0 70.1 L693.5 70.0 L695.0 70.0 L696.5 70.0 L698.0 69.9 L699.5 69.9 L701.0 69.8 L702.5 69.8 L704.0 69.8 L705.5 69.7 L707.0 69.7 L708.5 69.6 L710.0 69.6 L711.5 69.6 L713.0 69.5 L714.5 69.5 L716.0 69.5 L717.5 69.4 L719.0 69.4 L720.5 69.3 L722.0 69.3 L723.5 69.3 L725.0 69.2 L726.5 69.2 L728.0 69.1 L729.5 69.1 L731.0 69.1 L732.5 69.0 L734.0 69.0 L735.5 69.0 L737.0 68.9 L738.5 68.9 L740.0 68.8 L741.5 68.8 L743.0 68.8 L744.5 68.7 L746.0 68.7 L747.5 68.7 L749.0 68.6 L750.5 68.6 L752.0 68.5 L753.5 68.5 L755.0 68.5 L756.5 68.4 L758.0 68.4 L759.5 68.4 L761.0 68.3 L762.5 68.3 L764.0 68.2 L765.5 68.2 L767.0 68.2 L768.5 68.1 L770.0 68.1 L771.5 68.1 L773.0 68.0 L774.5 68.0 L776.0 67.9 L777.5 67.9 L779.0 67.9 L780.5 67.8 L782.0 67.8 L783.5 67.8 L785.0 67.7 L786.5 67.7 L788.0 67.6 L789.5 67.6 L791.0 67.6 L792.5 67.5 L794.0 67.5 L795.5 67.5 L797.0 67.4 L798.5 67.4 L800.0 67.4 L801.5 67.3 L803.0 67.3 L804.5 67.2 L806.0 67.2 L807.5 67.2 L809.0 67.1 L810.5 67.1 L812.0 67.1 L813.5 67.0 L815.0 67.0 L816.5 66.9 L818.0 66.9 L819.5 66.9 L821.0 66.8 L822.5 66.8 L824.0 66.8 L825.5 66.7 L827.0 66.7 L828.5 66.7 L830.0 66.6 L831.5 66.6 L833.0 66.5 L834.5 66.5 L836.0 66.5 L837.5 66.4 L839.0 66.4 L840.5 66.4 L842.0 66.3 L843.5 66.3 L845.0 66.2 L846.5 66.2 L848.0 66.2 L849.5 66.1 L851.0 66.1 L852.5 66.1 L854.0 66.0 L855.5 66.0 L857.0 65.9 L858.5 65.9 L860.0 65.9 L861.5 65.8 L863.0 65.8 L864.5 65.8 L866.0 65.7 L867.5 65.7 L869.0 65.6 L870.5 65.6 L872.0 65.6 L873.5 65.5 L875.0 65.5 L876.5 65.4 L878.0 65.4 L879.5 65.4 L881.0 65.3 L882.5 65.3 L884.0 65.2 L885.5 65.2 L887.0 65.2 L888.5 65.1 L890.0 65.1 L891.5 65.1 L893.0 65.0 L894.5 65.0 L896.0 64.9 L897.5 64.9 L899.0 64.9 L900.5 64.8 L902.0 64.8 L903.5 64.7 L905.0 64.7 L906.5 64.7 L908.0 64.6 L909.6 64.6 L911.1 64.5 L912.6 64.5 L914.1 64.5 L915.6 64.4 L917.1 64.4 L918.6 64.3 L920.1 64.3 L921.6 64.3 L923.1 64.2 L924.6 64.2 L926.1 64.1 L927.6 64.1 L929.1 64.0 L930.6 64.0 L932.1 64.0 L933.6 63.9 L935.1 63.9 L936.6 63.8 L938.1 63.8 L939.6 63.8 L941.1 63.7 L942.6 63.7 L944.1 63.6 L945.6 63.6 L947.1 63.5 L948.6 63.5 L950.1 63.4 L951.6 63.4 L953.1 63.4 L954.6 63.3 L956.1 63.3 L957.6 63.2 L959.1 63.2 L960.6 63.1 L962.1 63.1 L963.6 63.1 L965.1 63.0 L966.6 63.0 L968.1 62.9 L969.6 62.9 L971.1 62.8 L972.6 62.8 L974.1 62.7 L975.6 62.7 L977.1 62.6 L978.6 62.6 L980.1 62.5 L981.6 62.5 L983.1 62.5 L984.6 62.4 L986.1 62.4 L987.6 62.3 L989.1 62.2 L990.6 62.2 L992.1 62.1 L993.6 62.1 L995.1 62.0 L996.6 62.0 L998.1 61.9 L999.6 61.9 L1001.1 61.8 L1002.6 61.8 L1004.1 61.7 L1005.6 61.6 L1007.1 61.6 L1008.6 61.5 L1010.1 61.5 L1011.6 61.4 L1013.1 61.3 L1014.6 61.3 L1016.1 61.2 L1017.6 61.1 L1019.1 61.1 L1020.6 61.0 L1022.1 60.9 L1023.6 60.9 L1025.1 60.8 L1026.6 60.7 L1028.1 60.6 L1029.6 60.6 L1031.1 60.5 L1032.6 60.4 L1034.1 60.3 L1035.6 60.2 L1037.1 60.2 L1038.6 60.1 L1040.1 60.0 L1041.6 59.9 L1043.1 59.8 L1044.6 59.7 L1046.1 59.6 L1047.6 59.5 L1049.1 59.4 L1050.6 59.4 L1052.1 59.3 L1053.6 59.2 L1055.1 59.1 L1056.6 59.0 L1058.1 58.8 L1059.6 58.7 L1061.1 58.6 L1062.5 58.5 L1064.0 58.4 L1065.5 58.3 L1067.0 58.2 L1068.5 58.1 L1070.0 57.9 L1071.5 57.8 L1073.0 57.7" fill="none" stroke="#C99A02" stroke-width="4.3" stroke-linecap="butt"/>
<path d="M394.9 84.0 L396.6 82.9 L398.3 81.9 L400.1 81.0 L401.9 80.1 L403.8 79.4 L405.6 78.7 L407.5 78.1 L409.4 77.5 L411.4 77.0 L413.3 76.6 L415.2 76.2 L417.2 75.8 L419.2 75.5 L421.2 75.2 L423.1 74.9 L425.1 74.6 L427.1 74.4 L429.1 74.1 L431.1 73.9 L433.1 73.7 L435.1 73.5 L437.1 73.4 L439.1 73.2 L441.1 73.0 L443.1 72.9 L445.1 72.8 L447.1 72.7 L449.1 72.6 L451.1 72.5 L453.1 72.4 L455.1 72.3 L457.1 72.2 L459.1 72.2 L461.1 72.1 L463.1 72.0 L465.1 72.0 L467.1 72.0 L469.1 71.9 L471.2 71.9 L473.2 71.9 L475.2 71.9 L477.2 71.9 L479.2 71.8 L481.2 71.8 L483.2 71.8 L485.2 71.8 L487.3 71.8 L489.3 71.8 L491.3 71.8 L493.3 71.8 L495.3 71.8 L497.3 71.8 L499.3 71.8 L501.3 71.8 L503.3 71.8 L505.4 71.7 L507.4 71.7 L509.4 71.7 L511.4 71.7 L513.4 71.7 L515.4 71.6 L517.4 71.6 L519.4 71.6 L521.4 71.5 L523.4 71.5 L525.4 71.5 L527.4 71.4 L529.4 71.4 L531.5 71.4 L533.5 71.3 L535.5 71.3 L537.5 71.2 L539.5 71.2 L541.5 71.1 L543.5 71.1 L545.5 71.0 L547.5 71.0 L549.5 70.9 L551.5 70.9 L553.5 70.8 L555.5 70.8 L557.5 70.7 L559.5 70.7 L561.5 70.6 L563.5 70.5 L565.5 70.5 L567.5 70.4 L569.5 70.4 L571.5 70.3 L573.5 70.2 L575.5 70.2 L577.5 70.1 L579.5 70.1 L581.5 70.0 L583.5 69.9 L585.5 69.9 L587.5 69.8 L589.5 69.8 L591.5 69.7 L593.5 69.7 L595.5 69.6 L597.5 69.5 L599.6 69.5 L601.6 69.4 L603.6 69.4 L605.6 69.3 L607.6 69.3 L609.6 69.2 L611.6 69.2 L613.6 69.1 L615.6 69.1 L617.6 69.0 L619.6 69.0 L621.6 68.9 L623.6 68.9 L625.6 68.8 L627.6 68.8 L629.6 68.8 L631.6 68.7 L633.7 68.7 L635.7 68.7 L637.7 68.6 L639.7 68.6 L641.7 68.6 L643.7 68.5 L645.7 68.5 L647.7 68.5 L649.7 68.5 L651.7 68.5 L653.8 68.5 L655.8 68.4 L657.8 68.4 L659.8 68.4 L661.8 68.4 L663.8 68.4 L665.9 68.4 L667.9 68.4 L669.9 68.4 L671.9 68.4 L673.9 68.4 L675.9 68.4 L677.9 68.3 L679.9 68.3 L682.0 68.2 L684.0 68.2 L686.0 68.1 L688.0 68.0 L690.0 67.9 L692.0 67.8 L693.9 67.6 L695.9 67.5 L697.9 67.3 L699.9 67.1 L701.9 66.8 L703.8 66.6 L705.8 66.3 L707.8 66.0 L709.7 65.6 L711.7 65.2 L713.6 64.8" fill="none" stroke="#3366CC" stroke-width="4.6" stroke-linecap="round"/>
<g fill="#3366CC">
<circle cx="394.9" cy="83.7" r="2.6"/>
<circle cx="396.8" cy="82.2" r="2.6"/>
<circle cx="398.7" cy="82.0" r="2.6"/>
<circle cx="400.7" cy="79.9" r="2.6"/>
<circle cx="402.7" cy="79.9" r="2.6"/>
<circle cx="404.7" cy="78.8" r="2.6"/>
<circle cx="406.8" cy="77.5" r="2.6"/>
<circle cx="408.9" cy="77.7" r="2.6"/>
<circle cx="411.0" cy="76.3" r="2.6"/>
<circle cx="413.2" cy="76.5" r="2.6"/>
<circle cx="415.3" cy="75.4" r="2.6"/>
<circle cx="417.5" cy="75.0" r="2.6"/>
<circle cx="419.7" cy="75.3" r="2.6"/>
<circle cx="421.8" cy="75.7" r="2.6"/>
<circle cx="424.0" cy="74.1" r="2.6"/>
<circle cx="426.2" cy="74.0" r="2.6"/>
<circle cx="428.4" cy="74.5" r="2.6"/>
<circle cx="430.6" cy="74.8" r="2.6"/>
<circle cx="432.8" cy="73.9" r="2.6"/>
<circle cx="435.0" cy="73.4" r="2.6"/>
<circle cx="437.2" cy="74.2" r="2.6"/>
<circle cx="439.4" cy="72.4" r="2.6"/>
<circle cx="441.6" cy="73.7" r="2.6"/>
<circle cx="443.8" cy="72.5" r="2.6"/>
<circle cx="446.0" cy="72.1" r="2.6"/>
<circle cx="448.2" cy="71.9" r="2.6"/>
<circle cx="450.5" cy="72.1" r="2.6"/>
<circle cx="452.7" cy="73.0" r="2.6"/>
<circle cx="454.9" cy="71.7" r="2.6"/>
<circle cx="457.1" cy="72.4" r="2.6"/>
<circle cx="459.3" cy="72.4" r="2.6"/>
<circle cx="461.5" cy="71.9" r="2.6"/>
<circle cx="463.7" cy="72.1" r="2.6"/>
<circle cx="466.0" cy="71.2" r="2.6"/>
<circle cx="468.2" cy="71.2" r="2.6"/>
<circle cx="470.4" cy="71.4" r="2.6"/>
<circle cx="472.6" cy="72.2" r="2.6"/>
<circle cx="474.8" cy="71.7" r="2.6"/>
<circle cx="477.1" cy="71.5" r="2.6"/>
<circle cx="479.3" cy="72.0" r="2.6"/>
<circle cx="481.5" cy="71.8" r="2.6"/>
<circle cx="483.7" cy="71.5" r="2.6"/>
<circle cx="485.9" cy="72.4" r="2.6"/>
<circle cx="488.2" cy="72.2" r="2.6"/>
<circle cx="490.4" cy="71.4" r="2.6"/>
<circle cx="492.6" cy="71.9" r="2.6"/>
<circle cx="494.8" cy="71.8" r="2.6"/>
<circle cx="497.0" cy="72.5" r="2.6"/>
<circle cx="499.3" cy="72.2" r="2.6"/>
<circle cx="501.5" cy="71.4" r="2.6"/>
<circle cx="503.7" cy="72.6" r="2.6"/>
<circle cx="505.9" cy="71.1" r="2.6"/>
<circle cx="508.1" cy="71.6" r="2.6"/>
<circle cx="510.3" cy="72.2" r="2.6"/>
<circle cx="512.6" cy="71.0" r="2.6"/>
<circle cx="514.8" cy="71.6" r="2.6"/>
<circle cx="517.0" cy="70.8" r="2.6"/>
<circle cx="519.2" cy="71.9" r="2.6"/>
<circle cx="521.4" cy="72.0" r="2.6"/>
<circle cx="523.6" cy="71.6" r="2.6"/>
<circle cx="525.8" cy="72.1" r="2.6"/>
<circle cx="528.1" cy="71.1" r="2.6"/>
<circle cx="530.3" cy="71.7" r="2.6"/>
<circle cx="532.5" cy="71.5" r="2.6"/>
<circle cx="534.7" cy="71.4" r="2.6"/>
<circle cx="536.9" cy="71.2" r="2.6"/>
<circle cx="539.1" cy="71.8" r="2.6"/>
<circle cx="541.3" cy="71.9" r="2.6"/>
<circle cx="543.5" cy="71.0" r="2.6"/>
<circle cx="545.8" cy="71.3" r="2.6"/>
<circle cx="548.0" cy="70.2" r="2.6"/>
<circle cx="550.2" cy="71.3" r="2.6"/>
<circle cx="552.4" cy="71.1" r="2.6"/>
<circle cx="554.6" cy="71.7" r="2.6"/>
<circle cx="556.8" cy="71.3" r="2.6"/>
<circle cx="559.0" cy="70.3" r="2.6"/>
<circle cx="561.2" cy="70.4" r="2.6"/>
<circle cx="563.4" cy="70.8" r="2.6"/>
<circle cx="565.6" cy="69.6" r="2.6"/>
<circle cx="567.9" cy="70.3" r="2.6"/>
<circle cx="570.1" cy="69.7" r="2.6"/>
<circle cx="572.3" cy="69.6" r="2.6"/>
<circle cx="574.5" cy="69.4" r="2.6"/>
<circle cx="576.7" cy="70.6" r="2.6"/>
<circle cx="578.9" cy="69.4" r="2.6"/>
<circle cx="581.1" cy="69.6" r="2.6"/>
<circle cx="583.3" cy="69.8" r="2.6"/>
<circle cx="585.5" cy="70.6" r="2.6"/>
<circle cx="587.7" cy="69.1" r="2.6"/>
<circle cx="590.0" cy="69.7" r="2.6"/>
<circle cx="592.2" cy="69.8" r="2.6"/>
<circle cx="594.4" cy="70.3" r="2.6"/>
<circle cx="596.6" cy="70.1" r="2.6"/>
<circle cx="598.8" cy="70.2" r="2.6"/>
<circle cx="601.0" cy="69.0" r="2.6"/>
<circle cx="603.2" cy="69.2" r="2.6"/>
<circle cx="605.4" cy="69.1" r="2.6"/>
<circle cx="607.6" cy="70.0" r="2.6"/>
<circle cx="609.8" cy="70.0" r="2.6"/>
<circle cx="612.1" cy="68.5" r="2.6"/>
<circle cx="614.3" cy="68.5" r="2.6"/>
<circle cx="616.5" cy="68.6" r="2.6"/>
<circle cx="618.7" cy="68.5" r="2.6"/>
<circle cx="620.9" cy="68.9" r="2.6"/>
<circle cx="623.1" cy="69.1" r="2.6"/>
<circle cx="625.3" cy="68.4" r="2.6"/>
<circle cx="627.6" cy="67.9" r="2.6"/>
<circle cx="629.8" cy="68.6" r="2.6"/>
<circle cx="632.0" cy="68.5" r="2.6"/>
<circle cx="634.2" cy="68.8" r="2.6"/>
<circle cx="636.4" cy="69.5" r="2.6"/>
<circle cx="638.6" cy="69.0" r="2.6"/>
<circle cx="640.9" cy="68.6" r="2.6"/>
<circle cx="643.1" cy="68.8" r="2.6"/>
<circle cx="645.3" cy="68.8" r="2.6"/>
<circle cx="647.5" cy="67.7" r="2.6"/>
<circle cx="649.7" cy="69.2" r="2.6"/>
<circle cx="652.0" cy="69.0" r="2.6"/>
<circle cx="654.2" cy="69.1" r="2.6"/>
<circle cx="656.4" cy="69.0" r="2.6"/>
<circle cx="658.6" cy="68.2" r="2.6"/>
<circle cx="660.8" cy="68.2" r="2.6"/>
<circle cx="663.1" cy="67.7" r="2.6"/>
<circle cx="665.3" cy="68.7" r="2.6"/>
<circle cx="667.5" cy="67.6" r="2.6"/>
<circle cx="669.7" cy="67.6" r="2.6"/>
<circle cx="672.0" cy="67.9" r="2.6"/>
<circle cx="674.2" cy="67.8" r="2.6"/>
<circle cx="676.4" cy="68.1" r="2.6"/>
<circle cx="678.6" cy="67.5" r="2.6"/>
<circle cx="680.8" cy="67.4" r="2.6"/>
<circle cx="683.1" cy="67.6" r="2.6"/>
<circle cx="685.3" cy="67.4" r="2.6"/>
<circle cx="687.5" cy="67.8" r="2.6"/>
<circle cx="689.7" cy="67.0" r="2.6"/>
<circle cx="691.9" cy="68.4" r="2.6"/>
<circle cx="694.1" cy="67.8" r="2.6"/>
<circle cx="696.3" cy="66.8" r="2.6"/>
<circle cx="698.5" cy="66.8" r="2.6"/>
<circle cx="700.6" cy="66.7" r="2.6"/>
<circle cx="702.8" cy="66.5" r="2.6"/>
<circle cx="705.0" cy="65.7" r="2.6"/>
<circle cx="707.2" cy="66.7" r="2.6"/>
<circle cx="709.3" cy="66.6" r="2.6"/>
<circle cx="711.5" cy="65.2" r="2.6"/>
<circle cx="713.6" cy="64.8" r="2.6"/>
</g>
<g fill="#3366CC">
<circle cx="275.3" cy="618.6" r="2.85"/>
<circle cx="279.0" cy="581.3" r="2.85"/>
<circle cx="282.6" cy="548.0" r="2.85"/>
<circle cx="285.7" cy="515.5" r="2.85"/>
<circle cx="289.8" cy="485.2" r="2.85"/>
<circle cx="293.2" cy="458.8" r="2.85"/>
<circle cx="296.8" cy="433.3" r="2.85"/>
<circle cx="300.8" cy="407.6" r="2.85"/>
<circle cx="303.9" cy="384.2" r="2.85"/>
<circle cx="307.4" cy="362.5" r="2.85"/>
<circle cx="311.0" cy="344.6" r="2.85"/>
<circle cx="314.0" cy="325.3" r="2.85"/>
<circle cx="318.9" cy="309.5" r="2.85"/>
<circle cx="322.1" cy="294.8" r="2.85"/>
<circle cx="326.2" cy="280.7" r="2.85"/>
<circle cx="330.1" cy="269.8" r="2.85"/>
<circle cx="333.1" cy="257.9" r="2.85"/>
<circle cx="336.8" cy="246.4" r="2.85"/>
<circle cx="340.1" cy="236.8" r="2.85"/>
<circle cx="343.7" cy="227.3" r="2.85"/>
<circle cx="347.4" cy="217.9" r="2.85"/>
<circle cx="350.5" cy="205.7" r="2.85"/>
<circle cx="353.9" cy="191.3" r="2.85"/>
<circle cx="357.8" cy="175.8" r="2.85"/>
<circle cx="360.9" cy="159.5" r="2.85"/>
<circle cx="364.6" cy="144.1" r="2.85"/>
<circle cx="368.4" cy="129.9" r="2.85"/>
<circle cx="372.3" cy="118.2" r="2.85"/>
<circle cx="375.9" cy="109.4" r="2.85"/>
<circle cx="379.4" cy="102.1" r="2.85"/>
<circle cx="383.1" cy="96.8" r="2.85"/>
<circle cx="386.8" cy="92.2" r="2.85"/>
<circle cx="390.7" cy="88.0" r="2.85"/>
<circle cx="395.0" cy="84.3" r="2.85"/>
<circle cx="399.5" cy="81.3" r="2.85"/>
</g>
<path d="M278.9 483.9 L279.4 482.4 L279.8 481.0 L280.2 479.5 L280.6 478.1 L281.0 476.6 L281.5 475.2 L281.9 473.8 L282.3 472.3 L282.7 470.9 L283.1 469.4 L283.5 468.0 L283.9 466.5 L284.3 465.1 L284.7 463.6 L285.1 462.2 L285.5 460.7 L285.9 459.3 L286.3 457.8 L286.7 456.4 L287.1 454.9 L287.5 453.5 L287.9 452.0 L288.3 450.5 L288.7 449.1 L289.1 447.6 L289.4 446.2 L289.8 444.7 L290.2 443.3 L290.6 441.8 L290.9 440.4 L291.3 438.9 L291.7 437.5 L292.1 436.0 L292.4 434.5 L292.8 433.1 L293.2 431.6 L293.5 430.2 L293.9 428.7 L294.3 427.3 L294.6 425.8 L295.0 424.3 L295.3 422.9 L295.7 421.4 L296.1 420.0 L296.4 418.5 L296.8 417.0 L297.1 415.6 L297.5 414.1 L297.8 412.6 L298.2 411.2 L298.5 409.7 L298.9 408.3 L299.2 406.8 L299.5 405.3 L299.9 403.9 L300.2 402.4 L300.6 400.9 L300.9 399.5 L301.2 398.0 L301.6 396.5 L301.9 395.1 L302.2 393.6 L302.6 392.2 L302.9 390.7 L303.2 389.2 L303.6 387.8 L303.9 386.3 L304.2 384.8 L304.5 383.4 L304.9 381.9 L305.2 380.4 L305.5 378.9 L305.8 377.5 L306.2 376.0 L306.5 374.5 L306.8 373.1 L307.1 371.6 L307.4 370.1 L307.7 368.7 L308.1 367.2 L308.4 365.7 L308.7 364.3 L309.0 362.8 L309.3 361.3 L309.6 359.8 L309.9 358.4 L310.2 356.9 L310.5 355.4 L310.9 354.0 L311.2 352.5 L311.5 351.0 L311.8 349.5 L312.1 348.1 L312.4 346.6 L312.7 345.1 L313.0 343.7 L313.3 342.2 L313.6 340.7 L313.9 339.2 L314.2 337.8 L314.5 336.3 L314.8 334.8 L315.1 333.3 L315.4 331.9 L315.7 330.4 L316.0 328.9 L316.3 327.4 L316.6 326.0 L316.9 324.5 L317.1 323.0 L317.4 321.5 L317.7 320.1 L318.0 318.6 L318.3 317.1 L318.6 315.6 L318.9 314.2 L319.2 312.7 L319.5 311.2 L319.8 309.7 L320.1 308.3 L320.3 306.8 L320.6 305.3 L320.9 303.8 L321.2 302.3 L321.5 300.9 L321.8 299.4 L322.1 297.9 L322.4 296.4 L322.6 295.0 L322.9 293.5 L323.2 292.0 L323.5 290.5 L323.8 289.1 L324.1 287.6 L324.4 286.1 L324.6 284.6 L324.9 283.1 L325.2 281.7 L325.5 280.2 L325.8 278.7 L326.1 277.2 L326.4 275.8 L326.6 274.3 L326.9 272.8 L327.2 271.3 L327.5 269.8 L327.8 268.4 L328.1 266.9 L328.3 265.4 L328.6 263.9 L328.9 262.5 L329.2 261.0 L329.5 259.5 L329.8 258.0 L330.1 256.5 L330.4 255.1 L330.7 253.6 L330.9 252.1 L331.2 250.6 L331.5 249.2 L331.8 247.7 L332.1 246.2 L332.4 244.7 L332.7 243.3 L333.0 241.8 L333.3 240.3 L333.6 238.8 L333.9 237.4 L334.2 235.9 L334.5 234.4 L334.8 233.0 L335.2 231.5 L335.5 230.0 L335.8 228.5 L336.1 227.1 L336.4 225.6 L336.7 224.1 L337.1 222.7 L337.4 221.2 L337.7 219.7 L338.0 218.3 L338.4 216.8 L338.7 215.3 L339.0 213.9 L339.4 212.4 L339.7 210.9 L340.1 209.5 L340.4 208.0 L340.7 206.5 L341.1 205.1 L341.4 203.6 L341.8 202.2 L342.2 200.7 L342.5 199.2 L342.9 197.8 L343.3 196.3 L343.6 194.9 L344.0 193.4 L344.4 192.0 L344.8 190.5 L345.1 189.1 L345.5 187.6 L345.9 186.2 L346.3 184.7 L346.7 183.3 L347.1 181.8 L347.5 180.4 L347.9 178.9 L348.3 177.5 L348.8 176.0 L349.2 174.6 L349.6 173.1 L350.0 171.7 L350.5 170.3 L350.9 168.8 L351.3 167.4 L351.8 166.0 L352.2 164.5 L352.7 163.1 L353.1 161.6 L353.6 160.2 L354.1 158.8 L354.5 157.4 L355.0 155.9 L355.5 154.5 L356.0 153.1 L356.5 151.7 L356.9 150.2 L357.4 148.8 L358.0 147.4 L358.5 146.0 L359.0 144.5 L359.5 143.1 L360.0 141.7 L360.5 140.3 L361.1 138.9 L361.6 137.5 L362.2 136.1 L362.7 134.7 L363.3 133.3 L363.8 131.9 L364.4 130.4 L365.0 129.0 L365.6 127.6 L366.1 126.2 L366.7 124.8 L367.3 123.5 L367.9 122.1 L368.5 120.7 L369.2 119.3 L369.8 117.9 L370.4 116.5 L371.0 115.1 L371.7 113.7 L372.3 112.4 L373.0 111.0 L373.7 109.6 L374.4 108.3 L375.1 107.0 L375.8 105.6 L376.5 104.3 L377.3 103.0 L378.0 101.8 L378.8 100.5 L379.6 99.3 L380.5 98.1 L381.3 96.9 L382.2 95.7 L383.1 94.6 L384.1 93.4 L385.0 92.4 L386.0 91.3 L387.0 90.3 L388.1 89.3 L389.2 88.3 L390.3 87.4 L391.4 86.5 L392.6 85.7 L393.8 84.8 L395.1 84.1 L396.3 83.3 L397.6 82.5 L398.9 81.8 L400.3 81.1 L401.6 80.5 L403.0 79.8 L404.4 79.2 L405.7 78.5 L407.1 77.9 L408.5 77.3 L409.9 76.7 L411.4 76.1 L412.8 75.5 L414.2 74.9 L415.6 74.3 L417.0 73.7 L418.4 73.0 L419.7 72.4 L421.1 71.7 L422.4 71.1 L423.7 70.3 L425.0 69.6 L426.3 68.8 L427.5 68.0 L428.7 67.2 L429.9 66.3 L431.0 65.3 L432.1 64.3 L433.1 63.3 L434.1 62.2 L435.0 61.0 L435.9 59.8 L436.7 58.5 L437.4 57.1 L438.1 55.7 L438.7 54.2 L439.3 52.6" fill="none" stroke="#E00000" stroke-width="3.0" stroke-linecap="butt"/>
<path d="M296.7 74.7 C297.4 73.1 299.5 68.0 300.7 65.3 C301.9 62.6 302.9 60.4 304.0 58.7 C305.1 57.0 306.1 55.7 307.3 55.1 C308.5 54.5 310.2 55.6 311.3 55.3 C312.4 55.0 313.1 53.2 314.0 53.3 C314.9 53.4 315.8 54.9 316.7 56.0 C317.6 57.1 318.0 58.4 319.3 59.7 C320.6 61.0 322.9 62.0 324.7 64.0 C326.5 66.0 328.0 69.3 330.0 72.0 C332.0 74.7 334.5 77.1 336.7 80.0 C338.9 82.9 341.5 87.0 343.3 89.3 C345.1 91.6 346.0 93.2 347.3 94.0 C348.6 94.8 349.7 94.8 351.3 94.0 C352.9 93.2 354.7 91.8 356.7 89.3 C358.7 86.8 361.1 82.5 363.3 78.7 C365.5 74.9 367.8 69.7 370.0 66.7 C372.2 63.7 374.0 62.0 376.7 60.7 C379.4 59.4 382.7 59.2 386.0 59.1 C389.3 59.0 393.8 59.7 396.7 60.0 C399.6 60.3 401.0 60.7 403.3 60.7 C405.6 60.7 409.5 60.1 410.7 60.0" fill="none" stroke="#E00000" stroke-width="3.0" stroke-linecap="butt" stroke-linejoin="round"/>
</svg></body></html>
